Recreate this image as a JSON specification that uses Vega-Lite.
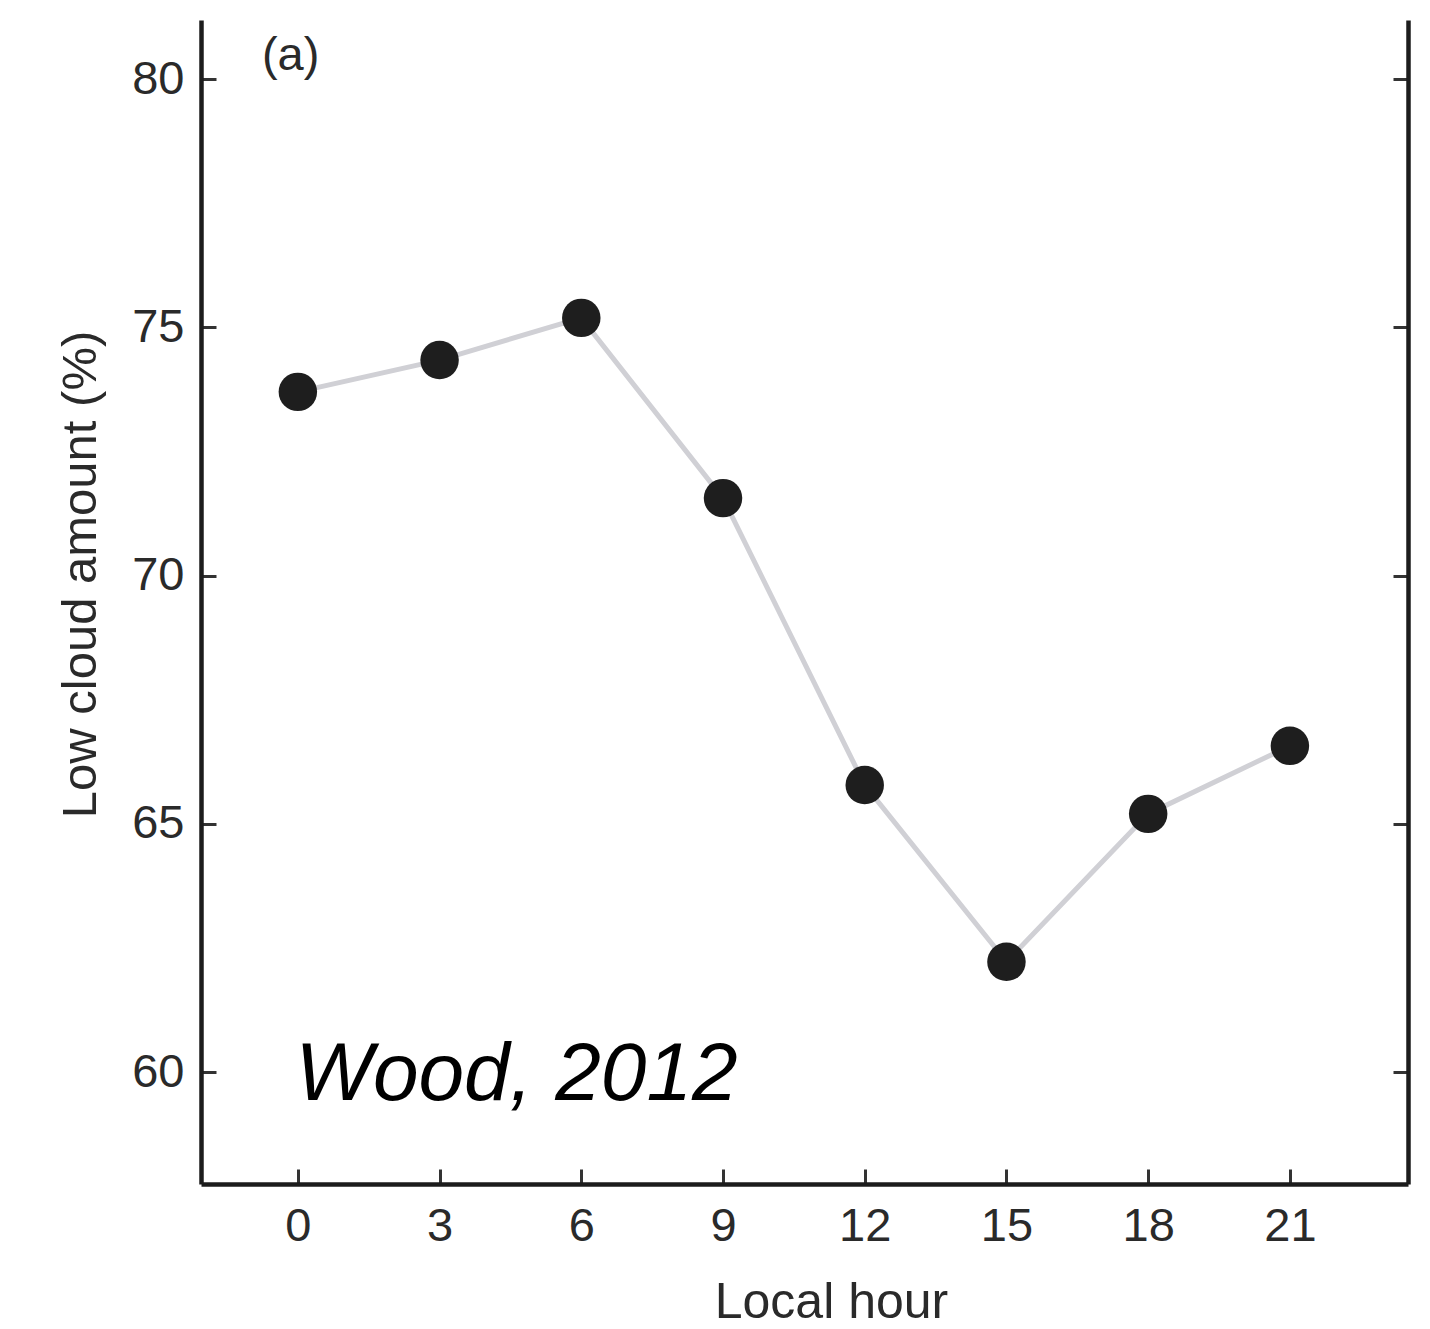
{
  "$schema": "https://vega.github.io/schema/vega-lite/v6.json",
  "width": 1207,
  "height": 1164,
  "autosize": {"type": "none"},
  "padding": {"left": 201, "top": 20, "right": 22, "bottom": 145},
  "background": "white",
  "config": {
    "view": {"stroke": null},
    "font": "Liberation Sans",
    "axis": {
      "grid": false,
      "domainColor": "#1c1c1c",
      "domainWidth": 4.5,
      "tickColor": "#333333",
      "tickWidth": 3,
      "tickSize": -15,
      "labelFont": "Liberation Sans",
      "labelFontSize": 47,
      "labelColor": "#2a2a2a",
      "titleFont": "Liberation Sans",
      "titleFontSize": 49,
      "titleFontWeight": "normal",
      "titleColor": "#2a2a2a"
    }
  },
  "data": {
    "values": [
      {"hour": 0, "cloud": 73.70},
      {"hour": 3, "cloud": 74.34},
      {"hour": 6, "cloud": 75.19},
      {"hour": 9, "cloud": 71.56},
      {"hour": 12, "cloud": 65.78},
      {"hour": 15, "cloud": 62.22},
      {"hour": 18, "cloud": 65.20},
      {"hour": 21, "cloud": 66.57}
    ]
  },
  "resolve": {"axis": {"y": "independent"}},
  "layer": [
    {
      "mark": {"type": "line", "color": "#d0d0d5", "strokeWidth": 5},
      "encoding": {
        "x": {
          "field": "hour", "type": "quantitative",
          "scale": {"domain": [-2.05, 23.5], "nice": false, "zero": false},
          "axis": {"values": [0, 3, 6, 9, 12, 15, 18, 21], "title": "Local hour", "labelPadding": 34, "titlePadding": 28, "titleFontSize": 50, "titleX": 630}
        },
        "y": {
          "field": "cloud", "type": "quantitative",
          "scale": {"domain": [57.745, 81.19], "nice": false, "zero": false},
          "axis": {"orient": "left", "values": [60, 65, 70, 75, 80], "title": "Low cloud amount (%)", "labelPadding": 32, "titlePadding": 26, "titleY": 554}
        }
      }
    },
    {
      "mark": {"type": "point", "filled": true, "color": "#1e1e1e", "opacity": 1, "size": 1480},
      "encoding": {
        "x": {"field": "hour", "type": "quantitative"},
        "y": {
          "field": "cloud", "type": "quantitative",
          "axis": {"orient": "right", "values": [60, 65, 70, 75, 80], "labels": false, "title": null}
        }
      }
    },
    {
      "data": {"values": [{"label": "(a)", "hour": -0.76, "cloud": 80.18}]},
      "mark": {"type": "text", "align": "left", "baseline": "alphabetic", "fontSize": 47, "color": "#2a2a2a", "font": "Liberation Sans"},
      "encoding": {
        "x": {"field": "hour", "type": "quantitative"},
        "y": {"field": "cloud", "type": "quantitative", "axis": null},
        "text": {"field": "label"}
      }
    },
    {
      "data": {"values": [{"label": "Wood, 2012", "hour": -0.05, "cloud": 59.44}]},
      "mark": {"type": "text", "align": "left", "baseline": "alphabetic", "fontSize": 82, "fontStyle": "italic", "color": "#000000", "font": "Liberation Sans"},
      "encoding": {
        "x": {"field": "hour", "type": "quantitative"},
        "y": {"field": "cloud", "type": "quantitative", "axis": null},
        "text": {"field": "label"}
      }
    }
  ]
}
